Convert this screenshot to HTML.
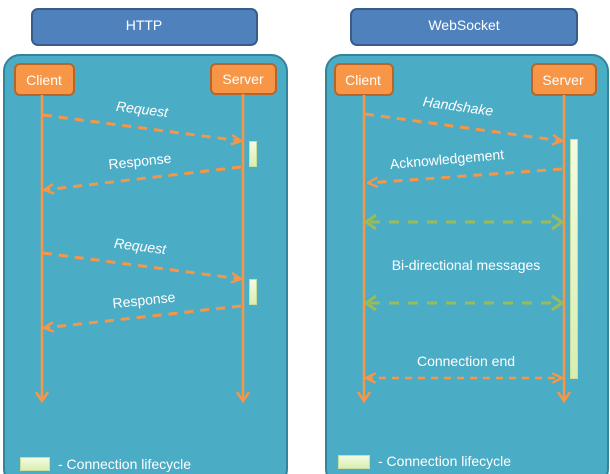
<!DOCTYPE html>
<html><head><meta charset="utf-8"><style>
html,body{margin:0;padding:0;background:#fff;width:610px;height:474px;overflow:hidden}
text{font-family:"Liberation Sans",sans-serif;fill:#fff;font-size:14px}
</style></head><body>
<svg width="610" height="474" viewBox="0 0 610 474" xmlns="http://www.w3.org/2000/svg">
<defs>
<marker id="ao" viewBox="0 0 10 10" refX="9" refY="5" markerWidth="12" markerHeight="12" orient="auto-start-reverse" markerUnits="userSpaceOnUse"><path d="M1,1 L9,5 L1,9" fill="none" stroke="#f79646" stroke-width="2"/></marker>
<linearGradient id="lc" x1="0" x2="0" y1="0" y2="1"><stop offset="0" stop-color="#f4fbe2"/><stop offset="1" stop-color="#d8eeb0"/></linearGradient>
</defs>
<rect x="32" y="9" width="225" height="36" rx="6" fill="#4f81bd" stroke="#385d8a" stroke-width="2"/>
<text x="144" y="30" text-anchor="middle" font-size="13">HTTP</text>
<rect x="351" y="9" width="226" height="36" rx="6" fill="#4f81bd" stroke="#385d8a" stroke-width="2"/>
<text x="464" y="30" text-anchor="middle" font-size="13">WebSocket</text>
<rect x="4" y="55" width="283" height="430" rx="16" fill="#4bacc6" stroke="#31849b" stroke-width="2"/>
<rect x="326" y="55" width="282" height="430" rx="16" fill="#4bacc6" stroke="#31849b" stroke-width="2"/>
<g fill="#f79646" stroke="#b8652a" stroke-width="2">
<rect x="15" y="64" width="59" height="31" rx="5"/>
<rect x="211" y="64" width="65" height="30" rx="5"/>
<rect x="335" y="64" width="58" height="31" rx="5"/>
<rect x="532" y="64" width="64" height="31" rx="5"/>
</g>
<text x="44" y="85" text-anchor="middle">Client</text>
<text x="243" y="84" text-anchor="middle">Server</text>
<text x="363" y="85" text-anchor="middle">Client</text>
<text x="563" y="85" text-anchor="middle">Server</text>
<g stroke="#f79646" stroke-width="2.5" fill="none">
<line x1="42" y1="95" x2="42" y2="400"/><path d="M36,392 L42,401 L48,392"/>
<line x1="243" y1="94" x2="243" y2="400"/><path d="M237,392 L243,401 L249,392"/>
<line x1="364" y1="95" x2="364" y2="400"/><path d="M358,392 L364,401 L370,392"/>
<line x1="564" y1="95" x2="564" y2="400"/><path d="M558,392 L564,401 L570,392"/>
</g>
<g fill="url(#lc)" stroke="#c9dfa0" stroke-width="1">
<rect x="249.5" y="141.5" width="7" height="25"/>
<rect x="249.5" y="279.5" width="7" height="25"/>
<rect x="570.5" y="139.5" width="7" height="239"/>
<rect x="20.5" y="457.5" width="29" height="13"/>
<rect x="338.5" y="455.5" width="31" height="13"/>
</g>
<g stroke="#f79646" stroke-width="3" stroke-dasharray="9,7" fill="none" marker-end="url(#ao)">
<line x1="43" y1="115" x2="241" y2="141"/>
<line x1="241" y1="167" x2="44" y2="190"/>
<line x1="43" y1="253" x2="241" y2="279"/>
<line x1="241" y1="306" x2="44" y2="328"/>
<line x1="365" y1="114" x2="562" y2="141"/>
<line x1="562" y1="169" x2="368" y2="183"/>
</g>
<line x1="366" y1="378" x2="562" y2="378" stroke="#f79646" stroke-width="2.5" stroke-dasharray="7,6" marker-end="url(#ao)" marker-start="url(#ao)"/>
<g stroke="#9bbb59" stroke-width="3" fill="none">
<line x1="370" y1="222" x2="558" y2="222" stroke-dasharray="10,9"/>
<path d="M376,215 L366,222 L376,229 M552,215 L562,222 L552,229"/>
<line x1="370" y1="303" x2="558" y2="303" stroke-dasharray="10,9"/>
<path d="M376,296 L366,303 L376,310 M552,296 L562,303 L552,310"/>
</g>
<text x="142" y="114" text-anchor="middle" font-style="italic" transform="rotate(7 142 110)">Request</text>
<text x="140" y="166" text-anchor="middle" transform="rotate(-6 140 162)">Response</text>
<text x="140" y="251" text-anchor="middle" font-style="italic" transform="rotate(7 140 247)">Request</text>
<text x="144" y="305" text-anchor="middle" transform="rotate(-6 144 301)">Response</text>
<text x="458" y="111" text-anchor="middle" font-style="italic" transform="rotate(8 458 107)">Handshake</text>
<text x="447" y="164" text-anchor="middle" transform="rotate(-5 447 160)">Acknowledgement</text>
<text x="466" y="270" text-anchor="middle">Bi-directional messages</text>
<text x="466" y="366" text-anchor="middle">Connection end</text>
<text x="58" y="469">- Connection lifecycle</text>
<text x="378" y="466">- Connection lifecycle</text>
</svg>
</body></html>
